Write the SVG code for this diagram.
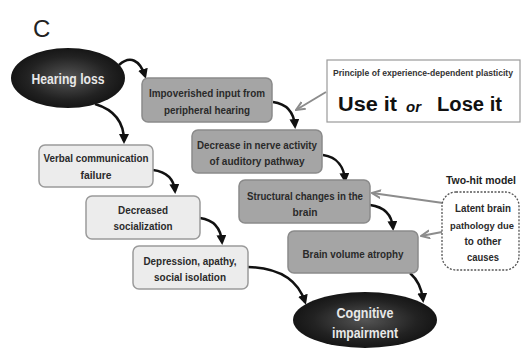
<svg xmlns="http://www.w3.org/2000/svg" width="523" height="350" viewBox="0 0 523 350">
<style>
.t{font-family:"Liberation Sans",Arial,sans-serif;font-weight:bold;font-size:11px;fill:#2a2a2a;text-anchor:middle}
.w{font-family:"Liberation Sans",Arial,sans-serif;font-weight:bold;font-size:14px;fill:#e8e8e8;text-anchor:middle}
.lt{fill:#ececec;stroke:#9a9a9a;stroke-width:1.5}
.dk{fill:#a5a5a5;stroke:#8a8a8a;stroke-width:1.5}
.bk{fill:none;stroke:#111;stroke-width:2.5;marker-end:url(#ab)}
.gr{fill:none;stroke:#8c8c8c;stroke-width:2;marker-end:url(#ag)}
</style>
<defs>
<radialGradient id="eg" cx="50%" cy="50%" r="60%">
<stop offset="0" stop-color="#555"/>
<stop offset="0.6" stop-color="#222"/>
<stop offset="1" stop-color="#0d0d0d"/>
</radialGradient>
<marker id="ab" markerWidth="10" markerHeight="10" refX="7" refY="5" orient="auto" markerUnits="userSpaceOnUse" viewBox="0 0 10 10">
<path d="M0,0 L10,5 L0,10 z" fill="#111"/>
</marker>
<marker id="ag" markerWidth="10" markerHeight="10" refX="9" refY="5" orient="auto" markerUnits="userSpaceOnUse" viewBox="0 0 10 10">
<path d="M0,1 L9,5 L0,9" fill="none" stroke="#8c8c8c" stroke-width="2"/>
</marker>
</defs>
<rect width="523" height="350" fill="#fff"/>
<text x="33" y="37" style="font-family:'Liberation Sans',Arial,sans-serif;font-size:24px;fill:#222">C</text>

<g id="connectors">
<path class="bk" d="M119,65 C130,55 140,60 145,76"/>
<path class="bk" d="M95,104 C115,110 124,122 124,141"/>
<path class="bk" d="M153,170 C168,172 174,180 175,191"/>
<path class="bk" d="M200,218 C215,220 221,230 222,242"/>
<path class="bk" d="M248,267 C280,268 298,280 305,302"/>
<path class="bk" d="M273,102 C288,104 294,114 295,126"/>
<path class="bk" d="M323,155 C338,157 344,168 345,180"/>
<path class="bk" d="M370,205 C385,207 392,216 393,228"/>
<path class="bk" d="M410,273 C418,280 422,290 423,300"/>
<path class="gr" d="M326,92 L296,110"/>
<path class="gr" d="M443,203 L372,193"/>
<path class="gr" d="M442,232 L421,236"/>
</g>

<g id="hearing-loss">
<ellipse cx="68" cy="78" rx="57" ry="30" fill="url(#eg)"/>
<text class="w" x="68" y="84" textLength="73" lengthAdjust="spacingAndGlyphs">Hearing loss</text>
</g>

<g id="impoverished">
<rect class="dk" x="142" y="78" width="130" height="44" rx="6"/>
<text class="t" x="207" y="97" textLength="116" lengthAdjust="spacingAndGlyphs">Impoverished input from</text>
<text class="t" x="207" y="114" textLength="86" lengthAdjust="spacingAndGlyphs">peripheral hearing</text>
</g>

<g id="decrease-nerve">
<rect class="dk" x="192" y="130" width="130" height="43" rx="6"/>
<text class="t" x="257" y="149" textLength="120" lengthAdjust="spacingAndGlyphs">Decrease in nerve activity</text>
<text class="t" x="257" y="165" textLength="95" lengthAdjust="spacingAndGlyphs">of auditory  pathway</text>
</g>

<g id="structural">
<rect class="dk" x="239" y="180" width="131" height="43" rx="6"/>
<text class="t" x="305" y="200" textLength="116" lengthAdjust="spacingAndGlyphs">Structural changes in the</text>
<text class="t" x="305" y="216" textLength="25" lengthAdjust="spacingAndGlyphs">brain</text>
</g>

<g id="brain-volume">
<rect class="dk" x="288" y="231" width="130" height="42" rx="6"/>
<text class="t" x="353" y="258" textLength="101" lengthAdjust="spacingAndGlyphs">Brain volume atrophy</text>
</g>

<g id="cognitive">
<ellipse cx="365" cy="320" rx="72" ry="28" fill="url(#eg)"/>
<text class="w" x="365" y="318" textLength="57" lengthAdjust="spacingAndGlyphs">Cognitive</text>
<text class="w" x="365" y="338" textLength="66" lengthAdjust="spacingAndGlyphs">impairment</text>
</g>

<g id="verbal">
<rect class="lt" x="39" y="145" width="114" height="42" rx="6"/>
<text class="t" x="96" y="162" textLength="105" lengthAdjust="spacingAndGlyphs">Verbal communication</text>
<text class="t" x="96" y="179" textLength="31" lengthAdjust="spacingAndGlyphs">failure</text>
</g>

<g id="socialization">
<rect class="lt" x="86" y="196" width="114" height="43" rx="6"/>
<text class="t" x="143" y="214" textLength="50" lengthAdjust="spacingAndGlyphs">Decreased</text>
<text class="t" x="143" y="230" textLength="59" lengthAdjust="spacingAndGlyphs">socialization</text>
</g>

<g id="depression">
<rect class="lt" x="133" y="246" width="115" height="43" rx="6"/>
<text class="t" x="190" y="265" textLength="93" lengthAdjust="spacingAndGlyphs">Depression, apathy,</text>
<text class="t" x="190" y="281" textLength="72" lengthAdjust="spacingAndGlyphs">social isolation</text>
</g>

<g id="principle">
<rect x="327" y="60" width="193" height="62" fill="#fff" stroke="#9a9a9a" stroke-width="1.2"/>
<text x="333" y="76" textLength="180" lengthAdjust="spacingAndGlyphs" style="font-family:'Liberation Sans',Arial,sans-serif;font-weight:bold;font-size:9px;fill:#333">Principle of experience-dependent plasticity</text>
<text x="338" y="111" textLength="59" lengthAdjust="spacingAndGlyphs" style="font-family:'Liberation Sans',Arial,sans-serif;font-weight:bold;font-size:20px;fill:#111">Use it</text>
<text x="406" y="112" style="font-family:'Liberation Sans',Arial,sans-serif;font-weight:bold;font-style:italic;font-size:15px;fill:#111">or</text>
<text x="437" y="111" textLength="65" lengthAdjust="spacingAndGlyphs" style="font-family:'Liberation Sans',Arial,sans-serif;font-weight:bold;font-size:20px;fill:#111">Lose it</text>
</g>

<g id="two-hit">
<text x="481" y="184" textLength="70" lengthAdjust="spacingAndGlyphs" style="font-family:'Liberation Sans',Arial,sans-serif;font-weight:bold;font-size:10.5px;fill:#222;text-anchor:middle">Two-hit model</text>
<rect x="442" y="192" width="77" height="78" rx="14" fill="#fff" stroke="#555" stroke-width="1.3" stroke-dasharray="2,1.5"/>
<text class="t" x="483" y="212" textLength="56" lengthAdjust="spacingAndGlyphs">Latent brain</text>
<text class="t" x="482" y="229" textLength="64" lengthAdjust="spacingAndGlyphs" style="font-size:9.5px">pathology due</text>
<text class="t" x="483" y="245" textLength="37" lengthAdjust="spacingAndGlyphs">to other</text>
<text class="t" x="483" y="261" textLength="32" lengthAdjust="spacingAndGlyphs">causes</text>
</g>
</svg>
